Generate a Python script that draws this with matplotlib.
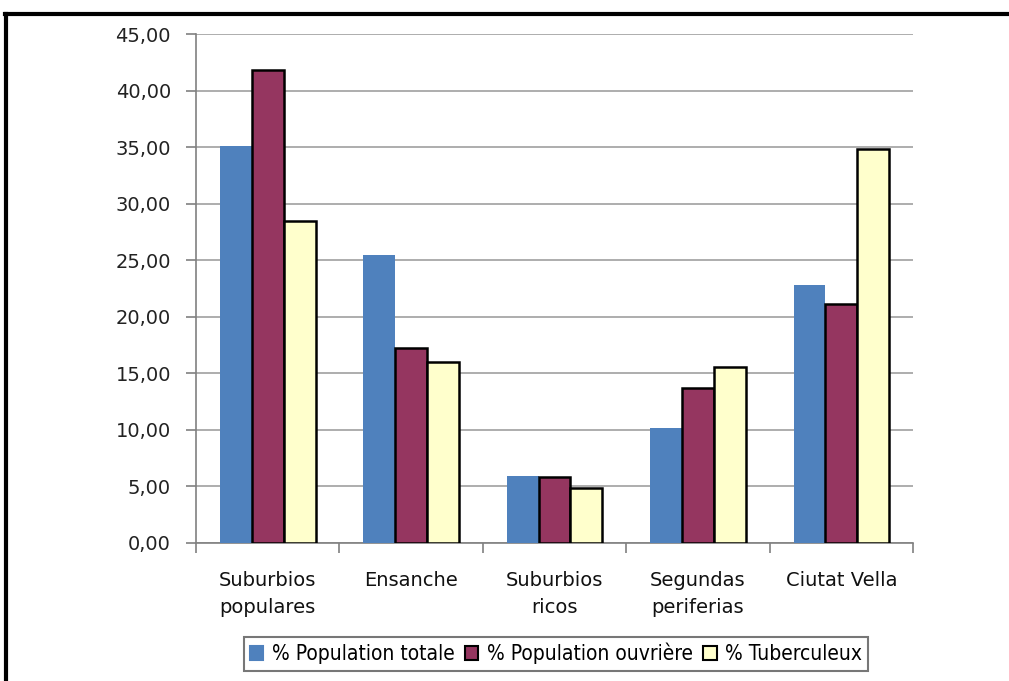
import matplotlib
matplotlib.use("Agg")
import matplotlib.pyplot as plt
from matplotlib.lines import Line2D
from matplotlib.patches import Patch
from matplotlib.font_manager import FontProperties
import numpy as np

categories = ["Suburbios\npopulares", "Ensanche", "Suburbios\nricos", "Segundas\nperiferias", "Ciutat Vella"]
series_names = ["% Population totale", "% Population ouvrière", "% Tuberculeux"]
pop_totale = [35.1, 25.5, 5.9, 10.2, 22.8]
pop_ouvriere = [41.8, 17.2, 5.8, 13.7, 21.1]
tuberculeux = [28.5, 16.0, 4.9, 15.6, 34.8]
yticks = [0, 5, 10, 15, 20, 25, 30, 35, 40, 45]

colors = ["#4F81BD", "#953660", "#FFFFCC"]
edges = ["none", "black", "black"]

fig = plt.figure(figsize=(10.09, 6.81), dpi=100)
ax = fig.add_axes([196/1009, 1-543/681, (913-196)/1009, (543-34)/681])

x = np.arange(len(categories))
w = 1/4.5
for i, (vals, c, e) in enumerate(zip([pop_totale, pop_ouvriere, tuberculeux], colors, edges)):
    ax.bar(x + (i-1)*w, vals, width=w, color=c, edgecolor=e, linewidth=1.8 if e != "none" else 0, zorder=3)

ax.set_xlim(-0.5, len(categories)-0.5)
ax.set_ylim(0, 45)
ax.set_yticks(yticks)
ax.set_yticklabels([f"{v:.2f}".replace(".", ",") for v in yticks], fontsize=14, color="#222222")
ax.yaxis.grid(True, color="#A0A0A0", linewidth=1.2, zorder=0)
ax.set_axisbelow(True)
ax.tick_params(axis="y", direction="out", length=7, color="#808080", width=1.2, pad=11)

ax.set_xticks(x)
ax.set_xticklabels(categories, fontsize=14, color="#111111", linespacing=1.55)
ax.tick_params(axis="x", length=0, pad=20)
ax.set_xticks(np.arange(-0.5, len(categories)), minor=True)
ax.tick_params(axis="x", which="minor", direction="out", length=7, color="#808080", width=1.2)

for s in ["top", "right"]:
    ax.spines[s].set_visible(False)
for s in ["left", "bottom"]:
    ax.spines[s].set_color("#808080")
    ax.spines[s].set_linewidth(1.2)

handles = [Patch(facecolor=c, edgecolor=e if e != "none" else c, linewidth=1.5) for c, e in zip(colors, edges)]
lp = FontProperties(family=["DejaVu Sans"], stretch="condensed", size=15)
leg = fig.legend(handles, series_names, loc="center", bbox_to_anchor=(556/1009, 1-653.5/681),
                 ncol=3, frameon=True, fancybox=False, edgecolor="#555555",
                 prop=lp,
                 handlelength=0.65, handleheight=0.65, handletextpad=0.4, columnspacing=0.5,
                 borderpad=0.3, borderaxespad=0)
leg.get_frame().set_linewidth(1.5)

fig.add_artist(Line2D([5/1009, 1], [1-14/681, 1-14/681], color="black", linewidth=3, transform=fig.transFigure))
fig.add_artist(Line2D([6/1009, 6/1009], [0, 1-14/681], color="black", linewidth=3, transform=fig.transFigure))

fig.savefig("out.png", dpi=100)
